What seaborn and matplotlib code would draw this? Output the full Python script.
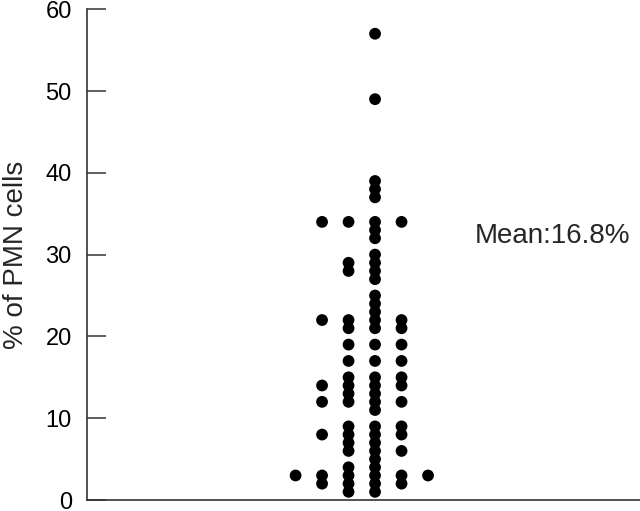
import numpy as np
import pandas as pd
import matplotlib
matplotlib.use("Agg")
import matplotlib.pyplot as plt
import seaborn as sns

# Data (percentage of PMN cells, one value per subject)
pmn_values = [57, 49, 39, 38, 37,
              34, 34, 34, 34, 33, 32, 30, 29, 29, 28, 28, 27,
              25, 24, 23, 22, 22, 22, 22, 21, 21, 21,
              19, 19, 19, 17, 17, 17, 15, 15, 15, 14, 14, 14, 14,
              13, 13, 12, 12, 12, 12, 11,
              9, 9, 9, 8, 8, 8, 8, 7, 7, 6, 6, 6, 5, 4, 4,
              3, 3, 3, 3, 3, 3, 2, 2, 2, 2, 1, 1]
y_ticks = [0, 10, 20, 30, 40, 50, 60]
y_label = "% of PMN cells"
mean_label = "Mean:16.8%"

# Dot-plot layout: equal values are spread sideways in this slot order
slot_order = [0, -1, 1, -2, 2, -3]

df = pd.DataFrame({"value": pmn_values})
df["rank"] = df.groupby("value").cumcount()
df["slot"] = df["rank"].map(lambda r: slot_order[r])

sns.set_style("white")
plt.rcParams["font.family"] = ["Liberation Sans", "DejaVu Sans"]

fig = plt.figure(figsize=(6.4, 5.11), dpi=100)
ax = fig.add_axes([0.136, 0.0215, 0.864, 0.9605])

sns.scatterplot(data=df, x="slot", y="value", color="black", s=72,
                edgecolor="none", linewidth=0, ax=ax, legend=False)

ax.set_xlim(-10.87, 10.0)
ax.set_ylim(0, 60)
ax.set_yticks(y_ticks)
ax.set_yticklabels([str(t) for t in y_ticks], fontsize=17)
ax.set_xticks([])
ax.set_xlabel("")
ax.set_ylabel(y_label, fontsize=20, labelpad=12)

for side in ["top", "right"]:
    ax.spines[side].set_visible(False)
for side in ["left", "bottom"]:
    ax.spines[side].set_color("#333333")
    ax.spines[side].set_linewidth(1.2)

ax.tick_params(axis="y", direction="in", length=14, width=1.1,
               color="#333333", pad=11, labelcolor="black", left=True)

ax.text(3.77, 32.3, mean_label, fontsize=20, ha="left", va="center")

fig.savefig("out.png", dpi=100)
